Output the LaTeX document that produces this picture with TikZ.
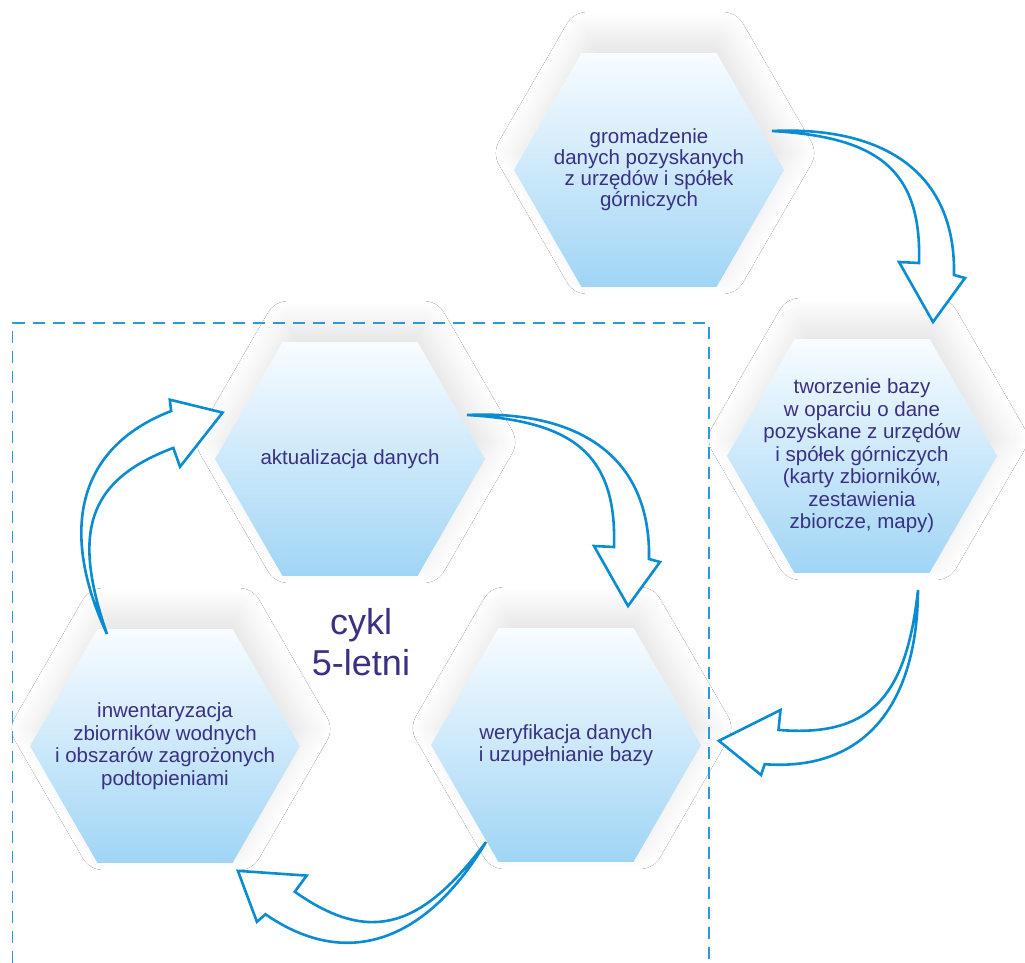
\documentclass[tikz,border=0pt]{standalone}
\usepackage{fontspec}
\setmainfont{Liberation Sans}
\usetikzlibrary{shapes.geometric,shadows.blur}

\definecolor{hexTop}{RGB}{248,252,255}
\definecolor{hexBot}{RGB}{160,213,245}
\definecolor{inkText}{RGB}{58,48,132}
\definecolor{arrowBlue}{RGB}{10,140,208}
\definecolor{frameBlue}{RGB}{45,152,214}

\tikzset{
  hexbox/.style={regular polygon, regular polygon sides=6, minimum size=270pt,
    inner sep=0pt, draw=none, top color=hexTop, bottom color=hexBot,
    blur shadow={shadow xshift=6pt, shadow yshift=17pt, shadow scale=1.0,
      shadow blur radius=24pt, shadow blur steps=16, shadow opacity=11}},
  hextext/.style={align=center, text=inkText, inner sep=0pt,
    font=\fontsize{20.5}{22.5}\selectfont},
  arrowline/.style={draw=arrowBlue, fill=white, line width=2.6pt, line join=miter},
  % hollow curved arrow: sharp tail at the origin, head at the far end
  pics/bendarrow/.style={code={
    \path[arrowline] (0,0) .. controls (110,-5) and (184,40) .. (182,144)
      -- (193,147) -- (161,191) -- (127,131) -- (147,132)
      .. controls (150,38) and (105,6) .. cycle;
  }},
}

\begin{document}
\begin{tikzpicture}[x=1pt,y=-1pt]
\useasboundingbox (0,0) rectangle (1025,963);
\fill[white] (0,0) rectangle (1025,963);

% process steps
\node[hexbox] (h1) at (649,170) {};
\node[hexbox] (h2) at (862,456) {};
\node[hexbox] (h3) at (350,459) {};
\node[hexbox] (h4) at (165,746) {};
\node[hexbox] (h5) at (566,745) {};

\node[hextext, font=\fontsize{20.5}{21}\selectfont] (t1) at (h1.center)
  {gromadzenie\\danych pozyskanych\\z urzędów i spółek\\górniczych};
\node[hextext] (t2) at (h2.center)
  {tworzenie bazy\\w oparciu o dane\\pozyskane z urzędów\\i spółek górniczych\\(karty zbiorników,\\zestawienia\\zbiorcze, mapy)};
\node[hextext] (t3) at (h3.center) {aktualizacja danych};
\node[hextext] (t4) at (h4.center)
  {inwentaryzacja\\zbiorników wodnych\\i obszarów zagrożonych\\podtopieniami};
\node[hextext] (t5) at (h5.center) {weryfikacja danych\\i uzupełnianie bazy};

\node[align=center, text=inkText, inner sep=0pt,
  font=\fontsize{36}{41}\selectfont] (cyc) at (361,642.6) {cykl\\5-letni};

% curved arrows between the steps
\coordinate (aTail) at (772,131);
\coordinate (bTail) at (467,415);
\coordinate (cTail) at (918,590);
\coordinate (dTail) at (486,842);
\coordinate (eTail) at (107,634);
\path (aTail) pic{bendarrow};
\path (bTail) pic{bendarrow};
\path (cTail) pic[rotate=-93]{bendarrow};
\path (dTail) pic[rotate=-123.5]{bendarrow};
\path (eTail) pic[rotate=112.3]{bendarrow};

% frame of the five-year cycle
\draw[frameBlue, line width=1.8pt, dash pattern=on 12pt off 8pt]
  (12.5,963) -- (12.5,323) -- (709,323) -- (709,963);
\end{tikzpicture}
\end{document}
